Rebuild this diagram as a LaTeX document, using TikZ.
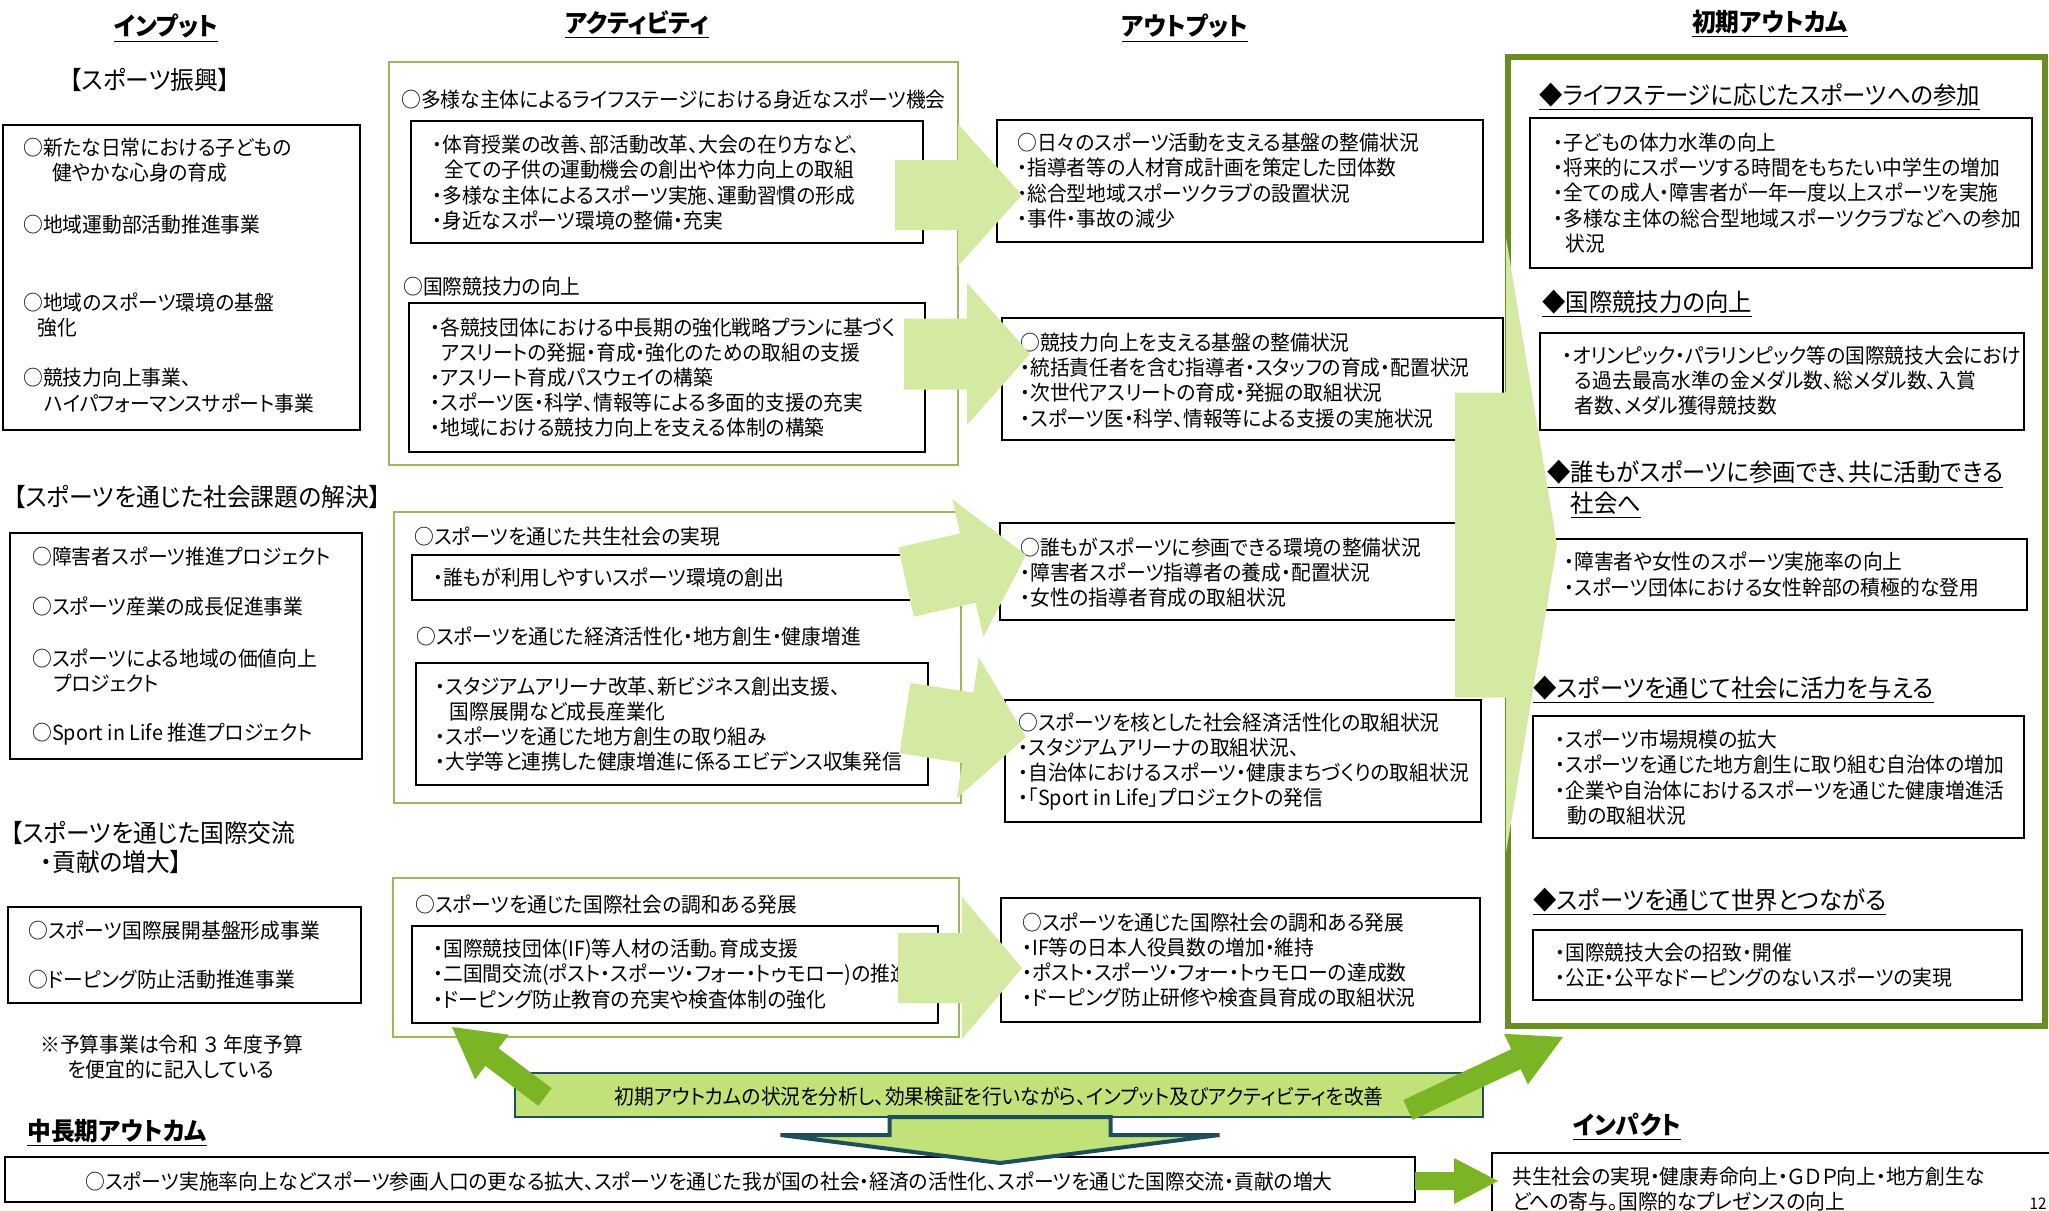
\documentclass[tikz,border=0pt]{standalone}
\usepackage{fontspec}
\setmainfont{Noto Sans CJK JP}[RawFeature=+palt, FakeStretch=0.95]
\usetikzlibrary{calc}

\definecolor{lightarr}{RGB}{212,234,163}
\definecolor{darkarr}{RGB}{123,180,37}
\definecolor{bargreen}{RGB}{193,226,120}
\definecolor{barline}{RGB}{31,78,92}
\definecolor{actline}{RGB}{155,187,89}
\definecolor{outcline}{RGB}{104,142,35}

% block arrow: style, tail, tip, half body, half head, head length
\newcommand{\blockarrow}[6]{%
  \path ($(#3)!#6!(#2)$) coordinate (neck);
  \path[#1] ($(#2)!#4!90:(#3)$) -- ($(neck)!#4!90:(#3)$) -- ($(neck)!#5!90:(#3)$) -- (#3)
    -- ($(neck)!#5!-90:(#3)$) -- ($(neck)!#4!-90:(#3)$) -- ($(#2)!#4!-90:(#3)$) -- cycle;}

\begin{document}
\begin{tikzpicture}[x=0.5pt,y=-0.5pt]
        \tikzstyle{boxline} = [draw, line width=1pt]
        \tikzstyle{actframe} = [draw=actline, line width=0.8pt]
        \tikzstyle{body} = [anchor=west, align=left, inner sep=0pt, font=\fontsize{10.4pt}{12.6pt}\selectfont]
        \tikzstyle{colhead} = [inner sep=0pt, font=\fontsize{12.5pt}{15pt}\selectfont\bfseries]
        \tikzstyle{groupname} = [anchor=west, align=left, inner sep=0pt, font=\fontsize{12.5pt}{14.5pt}\selectfont]
        \tikzstyle{aimname} = [anchor=west, align=left, inner sep=0pt, font=\fontsize{12.3pt}{15.5pt}\selectfont]
        \tikzstyle{lightarrow} = [fill=lightarr]
        \tikzstyle{darkarrow} = [fill=darkarr]
        \tikzstyle{downarrow} = [fill=bargreen, draw=barline, line width=2pt]

        \useasboundingbox (0,0) rectangle (2049,1210);
        \clip (0,0) rectangle (2049,1210);

        % column heads
        \node (hin) [colhead] at (166,28) {\underline{インプット}};
        \node (hact) [colhead] at (637,25) {\underline{アクティビティ}};
        \node (hout) [colhead] at (1185,28) {\underline{アウトプット}};
        \node (hinit) [colhead] at (1770,24) {\underline{初期アウトカム}};

        % input
        \node (gsport) [groupname, anchor=center] at (150,80) {【スポーツ振興】};
        \draw [boxline] (3,125) rectangle (360,430);
        \node (in1) [body] at (23,160.5) {○新たな日常における子どもの\\\hspace*{1.4em}健やかな心身の育成};
        \node (in2) [body] at (23,225) {○地域運動部活動推進事業};
        \node (in3) [body] at (23,315) {○地域のスポーツ環境の基盤\\\hspace*{0.7em}強化};
        \node (in4) [body] at (23,390.5) {○競技力向上事業、\\\hspace*{1em}ハイパフォーマンスサポート事業};

        \node (gsocial) [groupname] at (13,497) {【スポーツを通じた社会課題の解決】};
        \draw [boxline] (10,533) rectangle (362,759);
        \node (ss1) [body] at (32,556) {○障害者スポーツ推進プロジェクト};
        \node (ss2) [body] at (32,607) {○スポーツ産業の成長促進事業};
        \node (ss3) [body] at (32,671) {○スポーツによる地域の価値向上\\\hspace*{1em}プロジェクト};
        \node (ss4) [body] at (32,734) {○Sport in Life 推進プロジェクト};

        \node (gintl) [groupname] at (10,847.5) {【スポーツを通じた国際交流\\\hspace*{1.2em}・貢献の増大】};
        \draw [boxline] (8,907) rectangle (361,1003);
        \node (ic1) [body] at (28,931) {○スポーツ国際展開基盤形成事業};
        \node (ic2) [body] at (28,980) {○ドーピング防止活動推進事業};
        \node (note) [body] at (40,1057) {※予算事業は令和\hspace{0.25em}３\hspace{0.25em}年度予算\\\hspace*{1.3em}を便宜的に記入している};

        % activity
        \draw [actframe] (389,62) rectangle (958,465);
        \node (a1t) [body] at (401,100) {○多様な主体によるライフステージにおける身近なスポーツ機会};
        \draw [boxline] (411,121) rectangle (923,243);
        \node (a1b) [body] at (432,182.5) {・体育授業の改善、部活動改革、大会の在り方など、\\\hspace*{0.6em}全ての子供の運動機会の創出や体力向上の取組\\・多様な主体によるスポーツ実施、運動習慣の形成\\・身近なスポーツ環境の整備・充実};
        \node (a2t) [body] at (403,287) {○国際競技力の向上};
        \draw [boxline] (409,303) rectangle (925,452);
        \node (a2b) [body] at (430,377.5) {・各競技団体における中長期の強化戦略プランに基づく\\\hspace*{0.5em}アスリートの発掘・育成・強化のための取組の支援\\・アスリート育成パスウェイの構築\\・スポーツ医・科学、情報等による多面的支援の充実\\・地域における競技力向上を支える体制の構築};

        \draw [actframe] (394,512) rectangle (961,803);
        \node (a3t) [body] at (414,537) {○スポーツを通じた共生社会の実現};
        \draw [boxline] (412,555) rectangle (928,600);
        \node (a3b) [body] at (433,578) {・誰もが利用しやすいスポーツ環境の創出};
        \node (a4t) [body] at (416,637) {○スポーツを通じた経済活性化・地方創生・健康増進};
        \draw [boxline] (416,663) rectangle (928,785);
        \node (a4b) [body] at (435,724) {・スタジアムアリーナ改革、新ビジネス創出支援、\\\hspace*{0.7em}国際展開など成長産業化\\・スポーツを通じた地方創生の取り組み\\・大学等と連携した健康増進に係るエビデンス収集発信};

        \draw [actframe] (393,878) rectangle (959,1037);
        \node (a5t) [body] at (415,905) {○スポーツを通じた国際社会の調和ある発展};
        \draw [boxline] (412,926) rectangle (938,1023);
        \node (a5b) [body] at (433,974) {・国際競技団体(IF)等人材の活動。育成支援\\・二国間交流(ポスト・スポーツ・フォー・トゥモロー)の推進\\・ドーピング防止教育の充実や検査体制の強化};

        % output
        \draw [boxline] (997,120) rectangle (1483,242);
        \node (o1) [body] at (1017,180.5) {○日々のスポーツ活動を支える基盤の整備状況\\・指導者等の人材育成計画を策定した団体数\\・総合型地域スポーツクラブの設置状況\\・事件・事故の減少};
        \draw [boxline] (1002,318) rectangle (1503,440);
        \node (o2) [body] at (1020,380.5) {○競技力向上を支える基盤の整備状況\\・統括責任者を含む指導者・スタッフの育成・配置状況\\・次世代アスリートの育成・発掘の取組状況\\・スポーツ医・科学、情報等による支援の実施状況};
        \draw [boxline] (1000,523) rectangle (1500,620);
        \node (o3) [body] at (1020,572.5) {○誰もがスポーツに参画できる環境の整備状況\\・障害者スポーツ指導者の養成・配置状況\\・女性の指導者育成の取組状況};
        \draw [boxline] (1005,700) rectangle (1481,822);
        \node (o4) [body] at (1018,761.5) {○スポーツを核とした社会経済活性化の取組状況\\・スタジアムアリーナの取組状況、\\・自治体におけるスポーツ・健康まちづくりの取組状況\\・「Sport in Life」プロジェクトの発信};
        \draw [boxline] (1001,898) rectangle (1480,1022);
        \node (o5) [body] at (1022,960) {○スポーツを通じた国際社会の調和ある発展\\・IF等の日本人役員数の増加・維持\\・ポスト・スポーツ・フォー・トゥモローの達成数\\・ドーピング防止研修や検査員育成の取組状況};

        % initial outcome
        \draw [draw=outcline, line width=3pt] (1508,57) rectangle (2045,1026);
        \node (h1) [aimname] at (1539,97) {\underline{◆ライフステージに応じたスポーツへの参加}};
        \draw [boxline] (1530,118) rectangle (2032,268);
        \node (t1) [body] at (1553,193) {・子どもの体力水準の向上\\・将来的にスポーツする時間をもちたい中学生の増加\\・全ての成人・障害者が一年一度以上スポーツを実施\\・多様な主体の総合型地域スポーツクラブなどへの参加\\\hspace*{0.6em}状況};
        \node (h2) [aimname] at (1542,304) {\underline{◆国際競技力の向上}};
        \draw [boxline] (1540,333) rectangle (2024,430);
        \node (t2) [body] at (1562,380.5) {・オリンピック・パラリンピック等の国際競技大会におけ\\\hspace*{0.6em}る過去最高水準の金メダル数、総メダル数、入賞\\\hspace*{0.6em}者数、メダル獲得競技数};
        \node (h3) [aimname] at (1547,489.5) {\underline{◆誰もがスポーツに参画でき、共に活動できる}\\\hspace*{0.95em}\underline{社会へ}};
        \draw [boxline] (1545,539) rectangle (2027,610);
        \node (t3) [body] at (1564,574.5) {・障害者や女性のスポーツ実施率の向上\\・スポーツ団体における女性幹部の積極的な登用};
        \node (h4) [aimname] at (1533,690) {\underline{◆スポーツを通じて社会に活力を与える}};
        \draw [boxline] (1533,716) rectangle (2024,838);
        \node (t4) [body] at (1555,777.5) {・スポーツ市場規模の拡大\\・スポーツを通じた地方創生に取り組む自治体の増加\\・企業や自治体におけるスポーツを通じた健康増進活\\\hspace*{0.6em}動の取組状況};
        \node (h5) [aimname] at (1533,902) {\underline{◆スポーツを通じて世界とつながる}};
        \draw [boxline] (1533,930) rectangle (2022,1000);
        \node (t5) [body] at (1555,965) {・国際競技大会の招致・開催\\・公正・公平なドーピングのないスポーツの実現};

        % bottom
        \draw [fill=bargreen, draw=barline, line width=1.4pt] (515,1073) rectangle (1483,1117);
        \node (fb) [body, anchor=center] at (999,1097) {初期アウトカムの状況を分析し、効果検証を行いながら、インプット及びアクティビティを改善};
        \node (hmid) [colhead, anchor=west] at (27,1133) {\underline{中長期アウトカム}};
        \draw [boxline] (5,1157) rectangle (1415,1202);
        \node (mid) [body, anchor=center] at (709,1182) {○スポーツ実施率向上などスポーツ参画人口の更なる拡大、スポーツを通じた我が国の社会・経済の活性化、スポーツを通じた国際交流・貢献の増大};
        \node (himp) [colhead] at (1627,1127) {\underline{インパクト}};
        \draw [boxline] (1492,1153) rectangle (2070,1240);
        \node (imp) [body] at (1512,1189) {共生社会の実現・健康寿命向上・ＧＤＰ向上・地方創生な\\どへの寄与。国際的なプレゼンスの向上};
        \node (page) [inner sep=0pt, font=\fontsize{8pt}{9pt}\selectfont] at (2038,1204) {12};

        % arrows
        \coordinate (a1s) at (895,195);   \coordinate (a1e) at (1022,195);
        \coordinate (a2s) at (904,354);   \coordinate (a2e) at (1030,354);
        \coordinate (a3s) at (906,582);   \coordinate (a3e) at (1026,555);
        \coordinate (a4s) at (905,718);   \coordinate (a4e) at (1026,737);
        \coordinate (a5s) at (898,968);   \coordinate (a5e) at (1022,968);
        \coordinate (bigs) at (1455,545); \coordinate (bige) at (1557,545);
        \coordinate (fls) at (545,1097);  \coordinate (fle) at (452,1027);
        \coordinate (frs) at (1408,1110); \coordinate (fre) at (1563,1037);
        \coordinate (ds) at (1000,1117);  \coordinate (de) at (1000,1163);
        \coordinate (ms) at (1415,1181);  \coordinate (me) at (1498,1181);

        \blockarrow{lightarrow}{a1s}{a1e}{17.5pt}{35.5pt}{32pt}
        \blockarrow{lightarrow}{a2s}{a2e}{17.75pt}{35.5pt}{31.5pt}
        \blockarrow{lightarrow}{a3s}{a3e}{17.75pt}{35.3pt}{29.8pt}
        \blockarrow{lightarrow}{a4s}{a4e}{17.8pt}{35.7pt}{29.5pt}
        \blockarrow{lightarrow}{a5s}{a5e}{17.5pt}{35.5pt}{30pt}
        \blockarrow{lightarrow}{bigs}{bige}{76.25pt}{153.75pt}{25.5pt}
        \blockarrow{darkarrow}{fls}{fle}{5.5pt}{14pt}{25pt}
        \blockarrow{darkarrow}{frs}{fre}{5.5pt}{14pt}{26pt}
        \blockarrow{downarrow}{ds}{de}{55.25pt}{109.75pt}{14pt}
        \blockarrow{darkarrow}{ms}{me}{4.5pt}{11.5pt}{22pt}
    \end{tikzpicture}
\end{document}
